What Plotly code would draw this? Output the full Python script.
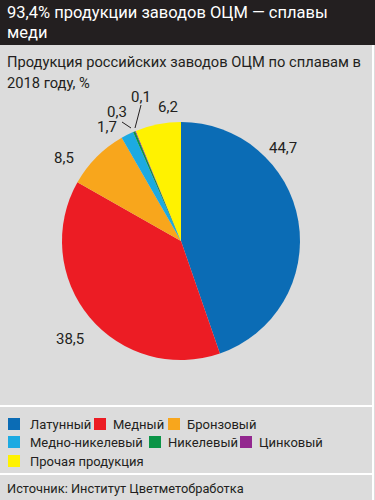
import plotly.graph_objects as go

W, H = 375, 500

categories = ["Латунный", "Медный", "Бронзовый", "Медно-никелевый", "Никелевый", "Цинковый", "Прочая продукция"]
values = [44.7, 38.5, 8.5, 1.7, 0.3, 0.1, 6.2]
value_labels = ["44,7", "38,5", "8,5", "1,7", "0,3", "0,1", "6,2"]
colors = ["#0b6cb5", "#ec1c24", "#f8a61c", "#1caae2", "#0b9447", "#93278f", "#fff200"]
title_lines = ["93,4% продукции заводов ОЦМ — сплавы", "меди"]
subtitle_lines = ["Продукция российских заводов ОЦМ по сплавам в", "2018 году, %"]
source_text = "Источник: Институт Цветметобработка"

# layout only: label centre positions (px) and legend item positions (square x, text x, row y)
label_pos = [(283, 148), (70, 339), (64, 158), (107, 127), (117, 112), (141, 97), (168, 107)]
legend_pos = [(8, 28, 424), (94, 111, 424), (168, 185, 424),
              (8, 28, 442), (149, 166, 442), (240, 257, 442),
              (8, 28, 461)]

FONT = "Roboto, Liberation Sans, sans-serif"
INK = "#231f20"


def px(x, y):
    return x / W, 1 - y / H


fig = go.Figure()
fig.add_trace(go.Pie(
    labels=categories, values=values, sort=False, direction="clockwise", rotation=0,
    marker=dict(colors=colors, line=dict(width=0)),
    textinfo="none", hoverinfo="label+value", showlegend=False,
    domain=dict(x=[62 / W, 300 / W], y=[1 - 360 / H, 1 - 122 / H]),
))

shapes = [
    dict(type="rect", xref="paper", yref="paper", x0=0, x1=1, y0=px(0, 45)[1], y1=1,
         fillcolor=INK, line=dict(width=0), layer="below"),
    dict(type="line", xref="paper", yref="paper", x0=0, x1=px(373, 0)[0], y0=px(0, 406)[1], y1=px(0, 406)[1],
         line=dict(color="white", width=2)),
    dict(type="line", xref="paper", yref="paper", x0=0, x1=px(373, 0)[0], y0=px(0, 474)[1], y1=px(0, 474)[1],
         line=dict(color="white", width=2)),
    dict(type="line", xref="paper", yref="paper", x0=px(373, 0)[0], x1=px(373, 0)[0], y0=0, y1=px(0, 45)[1],
         line=dict(color="white", width=2)),
    # leader lines
    dict(type="line", xref="paper", yref="paper", x0=px(122, 122)[0], y0=px(122, 122)[1],
         x1=px(131, 128)[0], y1=px(131, 128)[1], line=dict(color=INK, width=1)),
    dict(type="line", xref="paper", yref="paper", x0=px(141, 105)[0], y0=px(141, 105)[1],
         x1=px(135, 128)[0], y1=px(135, 128)[1], line=dict(color=INK, width=1)),
]

annotations = []
for (lx, ly), t in zip(label_pos, value_labels):
    x, y = px(lx, ly)
    annotations.append(dict(x=x, y=y, xref="paper", yref="paper", text=t, showarrow=False,
                            font=dict(family=FONT, size=15, color=INK), xanchor="center", yanchor="middle"))

# manual legend
for (sx, tx, ry), name, col in zip(legend_pos, categories, colors):
    shapes.append(dict(type="rect", xref="paper", yref="paper",
                       x0=px(sx, 0)[0], x1=px(sx + 12, 0)[0], y0=px(0, ry - 6)[1], y1=px(0, ry + 6)[1],
                       fillcolor=col, line=dict(width=0)))
    annotations.append(dict(x=px(tx, 0)[0], y=px(0, ry)[1], xref="paper", yref="paper", text=name,
                            showarrow=False, xanchor="left", yanchor="middle",
                            font=dict(family=FONT, size=13, color=INK)))

for t, yc in zip(title_lines, [12, 32]):
    annotations.append(dict(x=px(5, 0)[0], y=px(0, yc)[1], xref="paper", yref="paper", xanchor="left",
                            yanchor="middle", text=t, showarrow=False,
                            font=dict(family=FONT, size=16.5, color="white")))
for t, yc in zip(subtitle_lines, [62, 83]):
    annotations.append(dict(x=px(5, 0)[0], y=px(0, yc)[1], xref="paper", yref="paper", xanchor="left",
                            yanchor="middle", text=t, showarrow=False,
                            font=dict(family=FONT, size=14.7, color=INK)))
annotations.append(dict(x=px(5, 0)[0], y=px(0, 488)[1], xref="paper", yref="paper", xanchor="left",
                        yanchor="middle", text=source_text, showarrow=False,
                        font=dict(family=FONT, size=12.8, color=INK)))

fig.update_layout(
    width=W, height=H, margin=dict(l=0, r=0, t=0, b=0),
    paper_bgcolor="#dcdcdc", plot_bgcolor="#dcdcdc",
    shapes=shapes, annotations=annotations,
    showlegend=False,
)

fig.write_html("out.html", config={"displayModeBar": False},
               post_script="document.body.style.margin='0';document.body.style.overflow='hidden';")
